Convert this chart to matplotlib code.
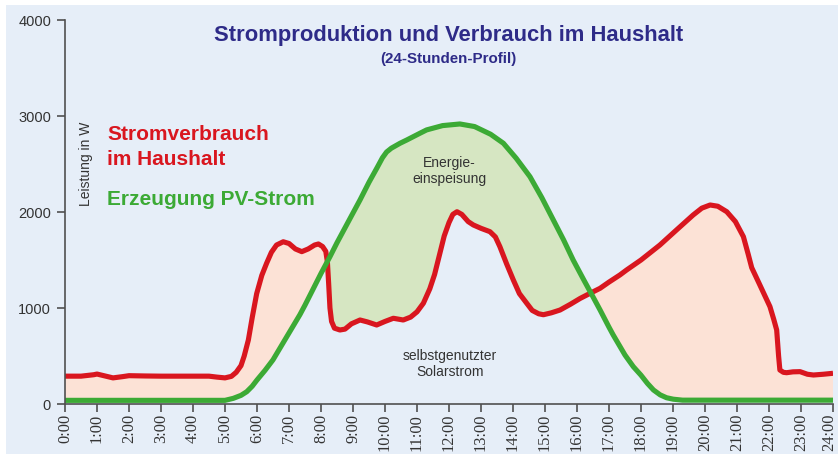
import numpy as np
import matplotlib
matplotlib.use("Agg")
import matplotlib.pyplot as plt
from matplotlib.patches import Rectangle
from matplotlib.transforms import ScaledTranslation

# ---------------- data ----------------
verbrauch_h = [0.0, 0.5, 0.9, 1.0, 1.2, 1.5, 1.8, 2.0, 2.5, 3.0, 3.5, 4.0, 4.5, 4.75, 5.0,
               5.2, 5.35, 5.5, 5.6, 5.73, 5.85, 5.99, 6.15, 6.3, 6.45, 6.61, 6.82, 7.0,
               7.2, 7.4, 7.6, 7.8, 7.92, 8.05, 8.15, 8.2, 8.24, 8.28, 8.33, 8.42, 8.59,
               8.75, 8.95, 9.22, 9.45, 9.74, 10.0, 10.26, 10.57, 10.8, 11.0, 11.2, 11.4,
               11.55, 11.7, 11.85, 12.0, 12.12, 12.25, 12.4, 12.6, 12.76, 13.0, 13.28,
               13.45, 13.59, 13.8, 14.01, 14.2, 14.43, 14.6, 14.8, 14.95, 15.2, 15.47,
               15.8, 16.1, 16.51, 16.72, 17.0, 17.34, 17.55, 18.0, 18.59, 19.1, 19.63,
               19.9, 20.16, 20.4, 20.68, 20.95, 21.2, 21.35, 21.46, 21.7, 22.03, 22.15,
               22.24, 22.3, 22.34, 22.45, 22.55, 22.75, 22.97, 23.2, 23.39, 23.7, 24.0]
verbrauch_w = [290, 290, 305, 312, 296, 272, 285, 295, 292, 290, 290, 290, 290, 280, 272,
               288, 330, 400, 500, 667, 900, 1150, 1340, 1466, 1580, 1656, 1690, 1672,
               1615, 1587, 1615, 1656, 1667, 1640, 1590, 1480, 1250, 1000, 860, 790, 771,
               780, 835, 875, 855, 823, 860, 893, 875, 905, 960, 1050, 1200,
               1350, 1550, 1750, 1890, 1975, 2003, 1975, 1900, 1865, 1830, 1795,
               1740, 1639, 1460, 1292, 1150, 1049, 975, 940, 930, 950, 979,
               1040, 1100, 1170, 1205, 1270, 1344, 1396, 1500, 1656, 1810, 1969,
               2040, 2073, 2060, 2003, 1900, 1743, 1560, 1420, 1250, 1014, 880,
               771, 500, 354, 330, 326, 335, 337, 310, 302, 310, 320]

pv_h = [0.0, 5.0, 5.26, 5.5, 5.68, 5.85, 6.0, 6.25, 6.5, 6.75, 7.0, 7.34, 7.5, 8.0,
        8.28, 8.5, 9.0, 9.22, 9.5, 9.75, 9.92, 10.05, 10.2, 10.47, 10.68, 11.09, 11.3,
        11.8, 12.34, 12.8, 13.3, 13.7, 14.1, 14.53, 14.9, 15.26, 15.58, 15.88, 16.2,
        16.51, 16.72, 17.0, 17.13, 17.5, 17.76, 18.0, 18.2, 18.39, 18.6, 18.8, 19.01,
        19.3, 24.0]
pv_w = [38, 38, 59, 90, 128, 185, 250, 350, 460, 600, 740, 930, 1030, 1360,
        1535, 1680, 1990, 2126, 2310, 2460, 2565, 2625, 2665, 2716, 2750, 2820, 2855,
        2900, 2917, 2890, 2810, 2716, 2560, 2368, 2150, 1917, 1710, 1500, 1300,
        1110, 980, 800, 720, 510, 389, 300, 215, 146, 95, 65, 50,
        40, 40]

x_ticks = list(range(25))
x_labels = [f"{h}:00" for h in x_ticks]
y_ticks = [0, 1000, 2000, 3000, 4000]

# ---------------- style ----------------
BG = "#E6EEF8"
RED = "#D9161F"
GREEN = "#3CAA35"
PINK = "#FCE2D6"
LGREEN = "#D6E6C2"
TITLE = "#2E2B88"
AXC = "#505050"

fig = plt.figure(figsize=(8.38, 4.54), dpi=100, facecolor="white")
fig.patches.append(Rectangle((6 / 838, 0), 1, 449 / 454, transform=fig.transFigure,
                             facecolor=BG, edgecolor="none", zorder=-10))

W, H = 838, 454
ax = fig.add_axes([65 / W, (H - 404) / H, (833 - 65) / W, (404 - 20) / H])
ax.set_facecolor("none")

vh = np.array(verbrauch_h, float)
vw = np.array(verbrauch_w, float)
ph = np.array(pv_h, float)
pw = np.array(pv_w, float)

grid = np.union1d(vh, ph)
rv = np.interp(grid, vh, vw)
gv = np.interp(grid, ph, pw)
ax.fill_between(grid, gv, rv, where=rv >= gv, interpolate=True, facecolor=PINK,
                edgecolor="none", zorder=1)
ax.fill_between(grid, gv, rv, where=gv >= rv, interpolate=True, facecolor=LGREEN,
                edgecolor="none", zorder=1)

ax.plot(vh, vw, color=RED, lw=3.7, solid_joinstyle="round", solid_capstyle="butt", zorder=3)
ax.plot(ph, pw, color=GREEN, lw=3.7, solid_joinstyle="round", solid_capstyle="butt", zorder=4)

ax.set_xlim(0, 24)
ax.set_ylim(0, 4000)
for s in ("top", "right"):
    ax.spines[s].set_visible(False)
for s in ("left", "bottom"):
    ax.spines[s].set_color(AXC)
    ax.spines[s].set_linewidth(1.2)
    ax.spines[s].set_zorder(5)

ax.set_yticks(y_ticks)
ax.set_yticklabels([str(v) for v in y_ticks], fontfamily="Liberation Sans", fontsize=10.5,
                   color="#333333")
ax.set_xticks(x_ticks)
ax.set_xticklabels(x_labels, rotation=90, va="top", ha="center",
                   fontfamily="Liberation Serif", fontsize=11.8, color="#333333")
ax.tick_params(axis="y", direction="out", length=6, width=1.2, color=AXC, pad=4)
ax.tick_params(axis="x", direction="out", length=5.5, width=1.2, color=AXC, pad=1.5)

# keep the last label ("24:00") inside the picture
last = ax.get_xticklabels()[-1]
last.set_transform(last.get_transform() + ScaledTranslation(-2.5 / 72, 0, fig.dpi_scale_trans))

# ---------------- texts ----------------
def fx(px):
    return px / W

def fy(py):
    return (H - py) / H

fig.text(fx(448.5), fy(40.5), "Stromproduktion und Verbrauch im Haushalt",
         fontfamily="Liberation Sans", fontweight="bold", fontsize=15.8, color=TITLE,
         ha="center", va="baseline")
fig.text(fx(448.5), fy(63.5), "(24-Stunden-Profil)",
         fontfamily="Liberation Sans", fontweight="bold", fontsize=10.9, color=TITLE,
         ha="center", va="baseline")

fig.text(fx(107), fy(140), "Stromverbrauch", fontfamily="Liberation Sans",
         fontweight="bold", fontsize=15, color=RED, ha="left", va="baseline")
fig.text(fx(107), fy(165), "im Haushalt", fontfamily="Liberation Sans",
         fontweight="bold", fontsize=15, color=RED, ha="left", va="baseline")
fig.text(fx(107), fy(205), "Erzeugung PV-Strom", fontfamily="Liberation Sans",
         fontweight="bold", fontsize=15, color=GREEN, ha="left", va="baseline")

fig.text(fx(86), fy(164), "Leistung in W", fontfamily="Liberation Sans", fontsize=10,
         color="#333333", rotation=90, ha="center", va="center")

fig.text(fx(449), fy(171), "Energie-\neinspeisung", fontfamily="Liberation Sans",
         fontsize=10, color="#333333", ha="center", va="center", linespacing=1.25)
fig.text(fx(450), fy(364), "selbstgenutzter\nSolarstrom", fontfamily="Liberation Sans",
         fontsize=10, color="#333333", ha="center", va="center", linespacing=1.25)

fig.savefig("out.png", dpi=100, facecolor=fig.get_facecolor())
